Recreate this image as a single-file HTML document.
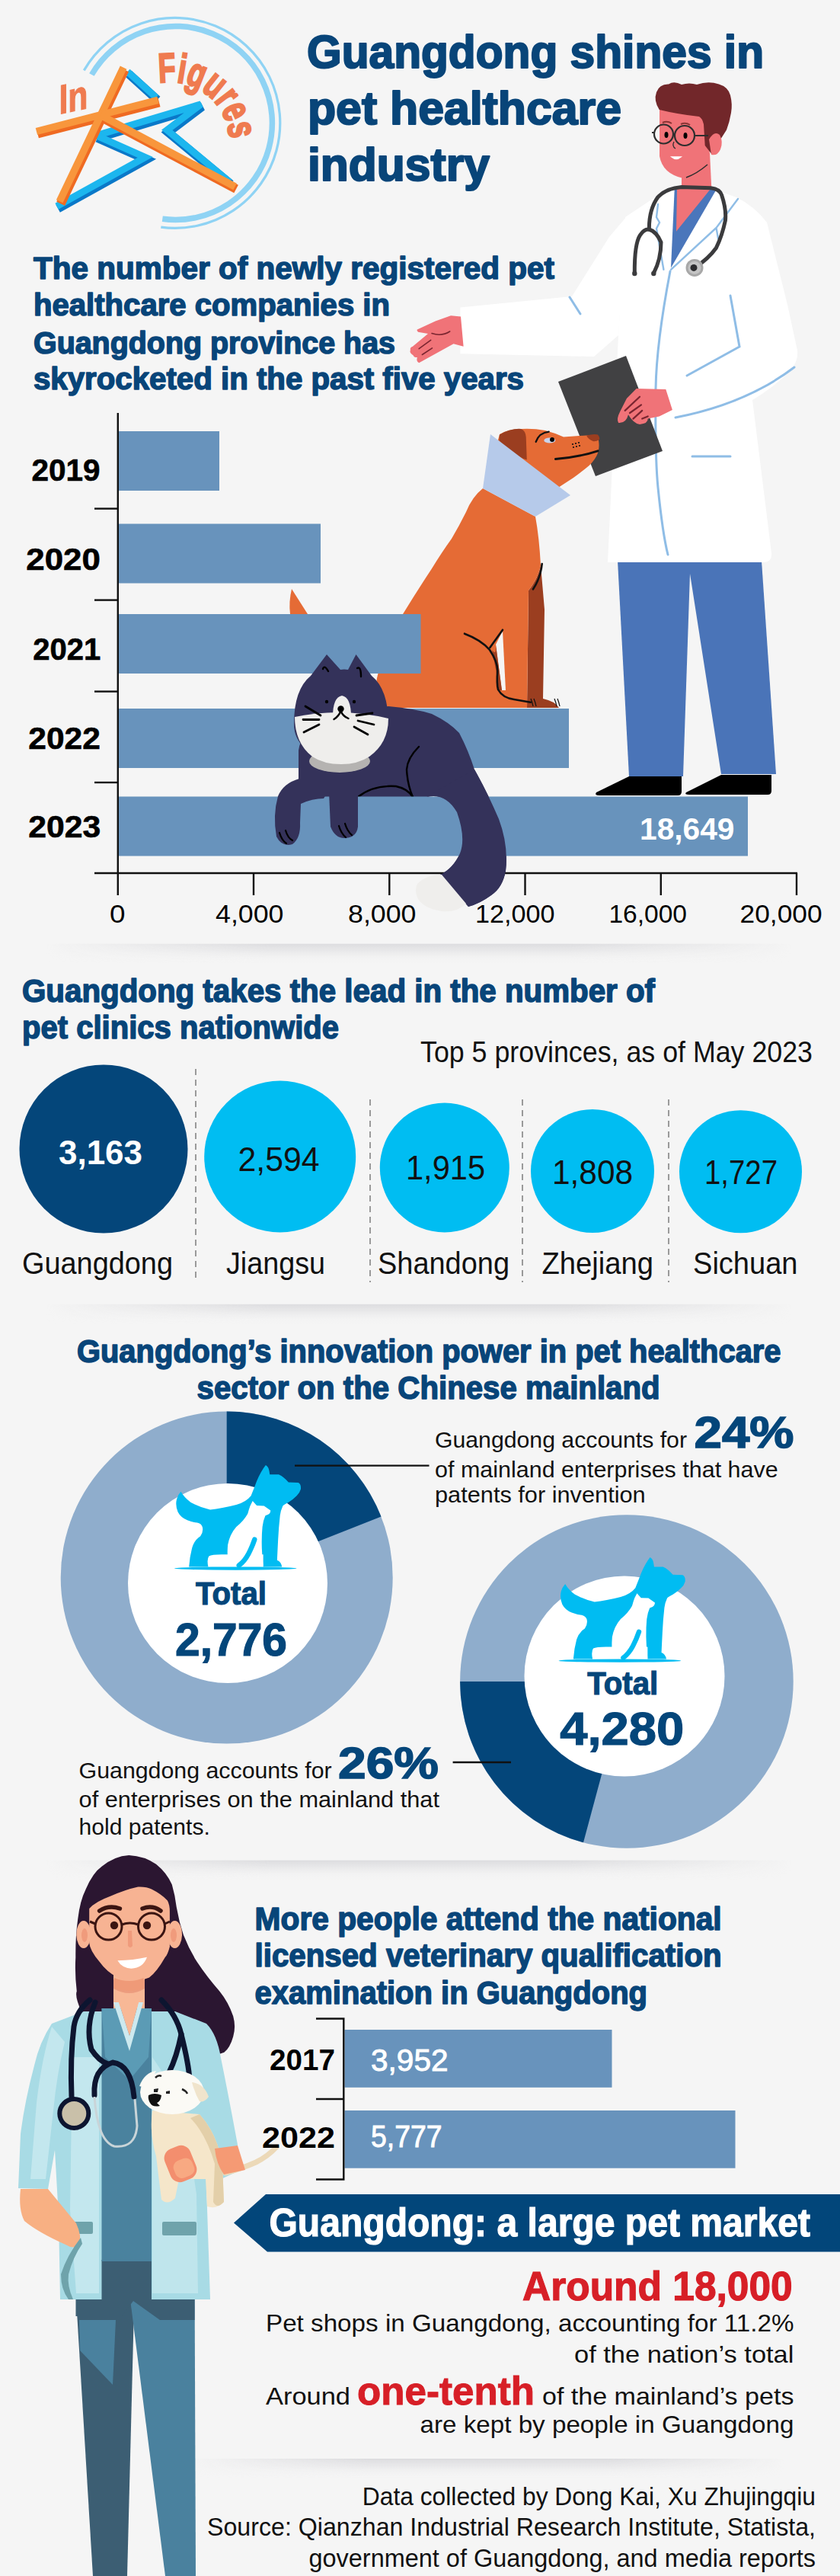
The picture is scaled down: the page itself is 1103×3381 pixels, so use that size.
<!DOCTYPE html>
<html><head><meta charset="utf-8">
<style>
html,body{margin:0;padding:0;background:#f5f5f5;}
svg{display:block;}
text{font-family:"Liberation Sans",sans-serif;}
.t{font-weight:bold;fill:#084579;stroke:#084579;stroke-width:1.6;stroke-linejoin:round;}
</style></head>
<body>
<svg width="1103" height="3381" viewBox="0 0 1103 3381">
<rect width="1103" height="3381" fill="#f5f5f5"/>
<defs>
<linearGradient id="shv" x1="0" y1="0" x2="0" y2="1">
<stop offset="0" stop-color="#d9d9dc" stop-opacity="0.9"/>
<stop offset="0.35" stop-color="#e2e2e4" stop-opacity="0.7"/>
<stop offset="1" stop-color="#f5f5f5" stop-opacity="0"/>
</linearGradient>
<linearGradient id="shh" x1="0" y1="0" x2="1" y2="0">
<stop offset="0" stop-color="#fff" stop-opacity="0"/>
<stop offset="0.3" stop-color="#fff" stop-opacity="1"/>
<stop offset="0.7" stop-color="#fff" stop-opacity="1"/>
<stop offset="1" stop-color="#fff" stop-opacity="0"/>
</linearGradient>
<mask id="mh" maskContentUnits="objectBoundingBox"><rect width="1" height="1" fill="url(#shh)"/></mask>
<g id="pet">
<path d="M80,205 Q100,240 140,270 Q200,302 260,315 Q330,308 420,285 Q480,268 510,230 Q530,180 545,140 Q570,80 600,42 Q618,50 622,80 L625,100 L680,100 Q712,115 740,148 L800,150 Q818,158 815,190 Q808,215 790,230 Q765,255 740,270 Q712,285 705,292 Q692,320 688,350 Q680,420 676,500 Q672,580 670,625 Q695,635 700,665 L585,665 L585,590 L330,590 Q270,590 252,600 Q238,620 248,665 L130,665 Q135,600 150,545 Q165,500 200,478 Q220,450 212,420 Q205,400 180,395 Q150,392 120,380 Q80,365 62,330 Q45,290 55,250 Q62,225 80,205Z" fill="#00bcf2"/>
<path d="M505,292 L520,262 L545,290 L590,292 L630,320 Q628,340 615,345 L598,352 Q585,380 580,420 Q575,470 576,530 Q577,600 585,660 L372,660 Q362,600 368,530 Q380,465 420,420 Q465,385 490,340 Q498,310 505,292Z" fill="#fff"/>
<path d="M532,498 Q518,540 495,585 Q470,632 436,657" fill="none" stroke="#00bcf2" stroke-width="30" stroke-linecap="round"/>
<ellipse cx="415" cy="675" rx="375" ry="10" fill="#00bcf2"/>
</g>
</defs>

<!-- section shadows -->
<g mask="url(#mh)">
<rect x="60" y="1238.5" width="980" height="26" fill="url(#shv)"/>
</g>
<g mask="url(#mh)">
<rect x="60" y="1711.6" width="980" height="26" fill="url(#shv)"/>
</g>
<g mask="url(#mh)">
<rect x="60" y="2441.4" width="980" height="26" fill="url(#shv)"/>
</g>
<g mask="url(#mh)">
<rect x="250" y="3227" width="780" height="26" fill="url(#shv)"/>
</g>

<!-- ===== LOGO ===== -->
<g id="logo">
<path d="M110.3,92.4 A138,138 0 1 1 211.3,298.2" fill="none" stroke="#8fd3f4" stroke-width="3.2"/>
<path d="M120.4,98 A127,127 0 1 1 213.3,287.3" fill="none" stroke="#8fd3f4" stroke-width="7.5"/>
<!-- star blue (dark side) -->
<g fill="none" stroke-linejoin="miter" stroke-miterlimit="2.5" stroke-linecap="butt">
<g transform="translate(1.5,3)" stroke="#0a78c8" stroke-width="11.5">
<polyline points="167.5,94 205,128"/>
<polyline points="126.4,177.9 263.9,136.8 219.3,170.7 301.4,238.6"/>
<polyline points="126.4,177.9 190.7,206.4 74.6,270.7"/>
</g>
<g stroke="#1cb6ee" stroke-width="9">
<polyline points="167.5,94 205,128"/>
<polyline points="126.4,177.9 263.9,136.8 219.3,170.7 301.4,238.6"/>
<polyline points="126.4,177.9 190.7,206.4 74.6,270.7"/>
</g>
<g transform="translate(1.5,3)" stroke="#ef6a22" stroke-width="12">
<line x1="78.2" y1="264.3" x2="162.1" y2="88.6"/>
<line x1="47.9" y1="172.5" x2="207.5" y2="131.4"/>
<line x1="131.8" y1="151" x2="308.6" y2="245"/>
</g>
<g stroke="#f8963c" stroke-width="9.5">
<line x1="78.2" y1="264.3" x2="162.1" y2="88.6"/>
<line x1="47.9" y1="172.5" x2="207.5" y2="131.4"/>
<line x1="131.8" y1="151" x2="308.6" y2="245"/>
</g>
</g>
<text x="77.5" y="150" font-size="54" font-weight="bold" fill="#ef7b50" stroke="#ef7b50" stroke-width="1.2" textLength="38" lengthAdjust="spacingAndGlyphs" transform="translate(77.5,150) skewY(-12) translate(-77.5,-150)">In</text>
<path id="figp" d="M209,109 A77,77 0 0 1 301,182" fill="none"/>
<text font-size="54" font-weight="bold" fill="#ef7b50" stroke="#ef7b50" stroke-width="2.6"><textPath href="#figp" textLength="134" lengthAdjust="spacingAndGlyphs">Figures</textPath></text>
</g>

<!-- HEADER TITLE -->
<g class="t" font-size="62" style="stroke-width:2.2">
<text x="403" y="89" textLength="600" lengthAdjust="spacingAndGlyphs">Guangdong shines in</text>
<text x="404" y="163" textLength="412" lengthAdjust="spacingAndGlyphs">pet healthcare</text>
<text x="404" y="237" textLength="239" lengthAdjust="spacingAndGlyphs">industry</text>
</g>
<!-- SUBTITLE 1 -->
<g class="t" font-size="41">
<text x="44" y="365.5" textLength="684" lengthAdjust="spacingAndGlyphs">The number of newly registered pet</text>
<text x="44" y="414" textLength="468" lengthAdjust="spacingAndGlyphs">healthcare companies in</text>
<text x="44" y="464" textLength="475" lengthAdjust="spacingAndGlyphs">Guangdong province has</text>
<text x="44" y="511" textLength="644" lengthAdjust="spacingAndGlyphs">skyrocketed in the past five years</text>
</g>
<!-- ===== DOCTOR (male) ===== -->
<g id="doctor">
<!-- pants -->
<polygon points="811,736 906,736 906,753 897,1019 826,1019" fill="#4a74b8"/>
<polygon points="906,736 1000,736 1019,1016 947,1016 906,753" fill="#4a74b8"/>
<!-- shoes -->
<path d="M783,1040 L826,1019 L895,1019 L895,1039 Q895,1044 890,1044 L787,1044 Q780,1044 783,1040Z" fill="#000"/>
<path d="M901,1040 L947,1017 L1013,1017 L1013,1038 Q1013,1043 1008,1043 L905,1043 Q898,1043 901,1040Z" fill="#000"/>
<!-- neck -->
<polygon points="895,226 932,200 935,262 895,262" fill="#f07378"/>
<!-- coat body -->
<path d="M878,247 L821,285 L812,440 L798,738 L1004,738 Q1014,737 1013,726 L988,525 Q1010,512 1030,494 Q1049,478 1047,460 L1034,400 L1007,292 Q990,270 967,259 L933,247 Z" fill="#ffffff"/>
<!-- sleeve left -->
<path d="M823,284 L800,311 L751,389 L604.4,403.6 L604.4,464.3 L780,468 L812,440 Z" fill="#ffffff"/>
<!-- scrubs V -->
<polygon points="885.7,249 940.5,249 881,351.4" fill="#4a76bb"/>
<polygon points="889,248 933,248 888,303.8" fill="#f07378"/>
<!-- coat lines -->
<g fill="none" stroke="#8fbde6" stroke-width="3" stroke-linecap="round">
<path d="M880,356 Q862,450 861,510 Q860,600 864,640 Q870,700 877,728"/>
<path d="M959,388 L971,455 L902,493"/>
<path d="M1043,482 Q980,530 887,548"/>
<path d="M909,599 L959,599"/>
<path d="M748,390 L762,412"/>
<path d="M969,261 L940.5,299 L943,313 M940.5,299 L881,353.8" stroke-width="2.4"/>
<path d="M864,268 L862,285 L866,292 L862,300 L871.4,353.8" stroke-width="2.4"/>
</g>
<!-- stethoscope -->
<g fill="none" stroke="#3b3b3d" stroke-width="5" stroke-linecap="round">
<path d="M833.3,358.6 Q833,320 840.5,308.6 Q846,300 852.4,301 Q862,304 868,318 Q868,340 858.3,358.6"/>
<path d="M852.4,301.4 Q852,275 864,258.6 Q875,247 895,245.5 L933.3,246.7 Q945,248 947.6,256 Q954,275 952.4,289.5 Q948,310 940.5,325.2 Q930,340 912,351.4"/>
</g>
<circle cx="833.3" cy="359" r="3.2" fill="#3b3b3d"/>
<circle cx="858.3" cy="359" r="3.2" fill="#3b3b3d"/>
<circle cx="912" cy="351.4" r="11.5" fill="#a8a8a8"/>
<circle cx="912" cy="351.4" r="8.5" fill="#c4c4c4"/>
<circle cx="911" cy="351.4" r="4.5" fill="#2c2c2e"/>
<!-- hand left (extended) -->
<path d="M592,414.3 L605,415.5 L608.6,454.8 L595.5,451.2 L550.2,476.2 Q546,474 547.9,469 Q543,469 543,466.7 Q537,463 538.9,459.5 Q538,456 541.9,454.8 L562,438 L549,435.7 Q546,433 549,432.1 L571.7,421.4 Z" fill="#f07378"/>
<path d="M567,437.5 Q580,442 590.7,435" fill="none" stroke="#7a2530" stroke-width="1.6" stroke-linecap="round"/>
<path d="M550.2,457.7 L565.7,446.4 M554.4,465.5 L567.5,456.9" stroke="#7a2530" stroke-width="1.6" stroke-linecap="round"/>
<!-- clipboard -->
<polygon points="733,501 822,467 870,592 782,625" fill="#414143"/>
<!-- hand on clipboard -->
<path d="M835.7,510 L874.3,511 L882.9,537.9 L865.7,546.4 L850.7,549.6 Q851,556 840,557.1 Q832,556 825,544.3 Q822,556 812.1,555 Q809,550 814.3,540 L822.9,522.9 Z" fill="#f07378"/>
<path d="M820.7,538.9 L840,520.7 M827,542 L842,531.4 M831.4,549.6 L843.2,538.9 M843.2,549.6 L850.7,546.4" stroke="#7a2530" stroke-width="2.2" stroke-linecap="round"/>
<!-- head -->
<path d="M866,143 L866,205 Q870,228 897,234 Q915,236 925,228 Q932,215 932,190 L930,150 Z" fill="#f07378"/>
<path d="M865.7,144 Q858,132 862,121 Q866,110 878,110.5 Q885,106 895,111 Q905,108 915,111 Q930,106 944,110.5 Q956,114 959,125 Q962,137 960,148 Q958,160 954,170.5 L946.7,182 L935,203 L925.7,191 L924,163 Q922,155 918,153 Q890,150 865.7,144Z" fill="#72272a"/>
<path d="M931,183 Q938,171 945,177 Q950,186 946,196 Q942,205 934,203 Z" fill="#f07378"/>
<g fill="none" stroke="#2e2e2e" stroke-width="2.2">
<circle cx="871.5" cy="176" r="12.5"/>
<circle cx="899" cy="178" r="13"/>
<path d="M884,176 L886,176 M912,178 L930,178 M859,174 L856,174"/>
</g>
<ellipse cx="875" cy="177" rx="2.5" ry="4" fill="#000"/>
<ellipse cx="900" cy="178" rx="2.5" ry="4" fill="#000"/>
<path d="M870,161 Q876,158 882,162 M894,163 Q900,160 906,164" fill="none" stroke="#8a3434" stroke-width="2"/>
<path d="M885,186 Q882,192 887,195" fill="none" stroke="#2e2e2e" stroke-width="1.3"/>
<path d="M882,206 Q888,211 894,206 Z" fill="#fff" stroke="#fff" stroke-width="1.5"/>
<path d="M901,233 Q915,228 929,216" fill="none" stroke="#2e2e2e" stroke-width="1.5"/>
</g>

<!-- ===== DOG ===== -->
<g id="dog">
<path d="M383,773 Q379,790 381,806 L404,806 Z" fill="#e56b35"/>
<!-- far front leg -->
<path d="M694,775 Q706,760 710,742 L715,800 L713,917 Q728,920 734,929 L692,929 Z" fill="#9b3e20"/>
<!-- body -->
<path d="M634,641 Q620,652 612,672 Q603,690 593,707 Q580,725 566.7,746.7 Q548,775 529,806 Q505,845 495,890 L489,929 L692,929 L694,775 Q706,760 710,742 Q708,705 703,678 Z" fill="#e56b35"/>
<polygon points="651,846 660,828 664,906 659,906" fill="#f5f5f5"/>
<path d="M646,853 Q652,862 651,846 L659,906 L655,906 Q652,880 646,853Z" fill="#9b3e20"/>
<path d="M610,831.7 Q632,840 643,853 Q653,868 653.3,880 Q652,897 654,905 Q660,916 675,918 L696.7,921.7" fill="none" stroke="#111" stroke-width="2.6" stroke-linecap="round"/>
<path d="M643.3,850 L660,826.7" fill="none" stroke="#111" stroke-width="2.6" stroke-linecap="round"/>
<path d="M697,917 Q699,922 700,927 M701,917 Q703,922 704,927 M728,917 Q730,922 731,927 M732,917 Q734,922 735,927" fill="none" stroke="#111" stroke-width="1.2"/>
<path d="M711.7,740 Q710,758 700,773.3" fill="none" stroke="#111" stroke-width="2.6" stroke-linecap="round"/>
<!-- head -->
<path d="M656,570 Q668,563 684,563 Q700,562 716,565 Q728,568 740,573.6 L770,571.4 Q784,570 786,578 Q788,590 783,599 Q778,608 770,614 Q760,622 753,627 L733,640 L690,665 L645,610 Z" fill="#e56b35"/>
<path d="M656,570.4 Q670,562 684.3,562.9 Q690,565 690.7,573.6 L691.8,603.6 Q680,600 673.6,593 Q660,585 655.4,578 Z" fill="#9b3e20"/>
<path d="M770,571.4 Q780,569 785,570.4 Q788,574 787,577 Q782,580 778.6,579 Q772,576 770,571.4Z" fill="#9b3e20"/>
<ellipse cx="721.8" cy="578" rx="7.5" ry="3.6" fill="#c9d4ec"/>
<circle cx="725" cy="577" r="3" fill="#000"/>
<path d="M703.6,580 Q708,568 720.7,566.7" fill="none" stroke="#111" stroke-width="2.2" stroke-linecap="round"/>
<path d="M729.3,602.5 Q760,600 785,591.8" fill="none" stroke="#111" stroke-width="2.8" stroke-linecap="round"/>
<g fill="#111"><circle cx="752" cy="583" r="1.1"/><circle cx="756" cy="582" r="1.1"/><circle cx="760" cy="581" r="1.1"/><circle cx="753" cy="587" r="1.1"/><circle cx="757" cy="586" r="1.1"/><circle cx="761" cy="585" r="1.1"/></g>
<!-- cone -->
<polygon points="644,570 634,641 703,678 749,650" fill="#b6caea"/>
</g>

<!-- ===== BARS ===== -->
<g fill="#6893bc">
<rect x="156" y="566" width="132" height="78"/>
<rect x="156" y="687.5" width="265" height="78"/>
<rect x="156" y="806" width="396.5" height="78"/>
<rect x="156" y="930" width="591" height="78"/>
</g>

<!-- ===== CAT (body, head) ===== -->
<g id="catbody">
<path d="M392,985 Q395,960 430,935 L510,927 Q545,930 567,937 Q590,948 603,962 Q615,985 623,1010 Q640,1040 655,1075 Q668,1110 664,1143 Q660,1165 645,1175 Q630,1186 615,1190 L578,1148 Q595,1140 604,1120 Q612,1100 600,1066 Q585,1040 560,1046 L392,1050 Z" fill="#34325a"/>
<path d="M386,950 Q386,905 408,887 L429,859 L447,879 Q452,878 457,879 L467.5,859 L488,887 Q510,905 510,950 Q510,990 448,1003 Q386,990 386,950Z" fill="#34325a"/>
<ellipse cx="446" cy="999" rx="40" ry="15" fill="#b5b3b1"/>
<path d="M387,941 Q448,928 510,943 Q510,975 485,993 Q470,1003 448,1003 Q425,1003 410,993 Q387,975 387,941Z" fill="#efeeec"/>
<path d="M437,941 Q437,915 449,913 Q461,915 461,941 Z" fill="#efeeec"/>
<g fill="none" stroke="#000" stroke-width="2.4" stroke-linecap="round">
<path d="M424,878 Q426,872 431,881 M469,877 Q474,874 474,888"/>
<path d="M401,927 L421,939 M398,944.5 L419,944.5 M399,961 L419,951 M468,939 L489,936 M470,946 L491,951 M465,954 L483,964" stroke-width="2.8"/>
<path d="M438.5,944 Q445,940 447.5,933 Q450,940 457.5,943"/>
<path d="M550,980 Q535,995 534,1010 Q535,1030 542,1046"/>
<path d="M470,1046 Q490,1030 520,1032 Q535,1035 542,1046"/>
</g>
<circle cx="429" cy="921" r="2.2" fill="#000"/>
<circle cx="465" cy="921" r="2.2" fill="#000"/>
<circle cx="447.5" cy="930.5" r="4.2" fill="#000"/>
</g>

<!-- 2023 bar -->
<rect x="156" y="1045.5" width="826" height="78" fill="#6893bc"/>

<!-- axes -->
<g stroke="#111" stroke-width="2.4">
<line x1="154.8" y1="542" x2="154.8" y2="1175"/>
<line x1="124" y1="1146" x2="1047" y2="1146"/>
<line x1="124" y1="667.6" x2="154" y2="667.6"/>
<line x1="124" y1="787.6" x2="154" y2="787.6"/>
<line x1="124" y1="907.6" x2="154" y2="907.6"/>
<line x1="124" y1="1027" x2="154" y2="1027"/>
<line x1="333" y1="1146" x2="333" y2="1175"/>
<line x1="511.3" y1="1146" x2="511.3" y2="1175"/>
<line x1="689.5" y1="1146" x2="689.5" y2="1175"/>
<line x1="867.8" y1="1146" x2="867.8" y2="1175"/>
<line x1="1046" y1="1146" x2="1046" y2="1175"/>
</g>
<g font-size="40" font-weight="bold" fill="#000" stroke="#000" stroke-width="0.6">
<text x="41.5" y="630.8" textLength="90" lengthAdjust="spacingAndGlyphs">2019</text>
<text x="34.3" y="748.3" textLength="97.5" lengthAdjust="spacingAndGlyphs">2020</text>
<text x="43.2" y="865.5" textLength="89" lengthAdjust="spacingAndGlyphs">2021</text>
<text x="37.3" y="982.5" textLength="94.5" lengthAdjust="spacingAndGlyphs">2022</text>
<text x="37.3" y="1099.2" textLength="95" lengthAdjust="spacingAndGlyphs">2023</text>
</g>
<g font-size="34" fill="#000">
<text x="144" y="1211" textLength="20.5" lengthAdjust="spacingAndGlyphs">0</text>
<text x="283" y="1211" textLength="89.5" lengthAdjust="spacingAndGlyphs">4,000</text>
<text x="457" y="1211" textLength="89.5" lengthAdjust="spacingAndGlyphs">8,000</text>
<text x="624" y="1211" textLength="104.5" lengthAdjust="spacingAndGlyphs">12,000</text>
<text x="799.4" y="1211" textLength="102.6" lengthAdjust="spacingAndGlyphs">16,000</text>
<text x="971.6" y="1211" textLength="108" lengthAdjust="spacingAndGlyphs">20,000</text>
</g>
<!-- cat paws & tail -->
<g id="catfront">
<path d="M393,1022 Q372,1028 365,1045 Q358,1070 363,1098 Q370,1112 384,1108 Q395,1100 394,1080 L395,1055 Q410,1048 425,1048 L430,1040 L393,1040Z" fill="#34325a"/>
<path d="M432,1040 L434,1085 Q440,1100 452,1100 Q468,1100 470,1085 L470,1040Z" fill="#34325a"/>
<path d="M600,1066 Q585,1040 560,1046 L623,1010 Q640,1040 655,1075 Q668,1110 664,1143 Q660,1165 645,1175 Q630,1186 615,1190 L578,1148 Q595,1140 604,1120 Q612,1100 600,1066Z" fill="#34325a"/>
<path d="M548,1160 Q560,1148 580,1148 L612,1186 Q600,1198 580,1196 Q555,1192 548,1178 Q544,1168 548,1160Z" fill="#efeeec"/>
<g fill="none" stroke="#000" stroke-width="2.2" stroke-linecap="round">
<path d="M367,1093 Q370,1103 376,1107 M375,1090 Q378,1100 384,1103"/>
<path d="M445,1084 Q448,1094 454,1099 M453,1081 Q456,1091 462,1096"/>
</g>
</g>

<text x="840" y="1102" font-size="40" font-weight="bold" fill="#fff" textLength="124.5" lengthAdjust="spacingAndGlyphs">18,649</text>

<!-- ===== SECTION 3: clinics ===== -->
<g class="t" font-size="43">
<text x="29" y="1314.5" textLength="831" lengthAdjust="spacingAndGlyphs">Guangdong takes the lead in the number of</text>
<text x="29" y="1363" textLength="416" lengthAdjust="spacingAndGlyphs">pet clinics nationwide</text>
</g>
<text x="552" y="1394.3" font-size="39" fill="#111" textLength="515" lengthAdjust="spacingAndGlyphs">Top 5 provinces, as of May 2023</text>
<g stroke="#9a9a9a" stroke-width="2" stroke-dasharray="8,6">
<line x1="257" y1="1403" x2="257" y2="1683"/>
<line x1="486" y1="1443" x2="486" y2="1683"/>
<line x1="686" y1="1443" x2="686" y2="1683"/>
<line x1="878" y1="1443" x2="878" y2="1683"/>
</g>
<circle cx="136" cy="1508" r="110.5" fill="#04467a"/>
<g fill="#00bdf2">
<circle cx="367.7" cy="1518" r="99.5"/>
<circle cx="583.8" cy="1532.5" r="85"/>
<circle cx="778" cy="1537" r="81"/>
<circle cx="972.5" cy="1537.7" r="80.5"/>
</g>
<text x="132" y="1528" font-size="44" font-weight="bold" fill="#fff" text-anchor="middle">3,163</text>
<g font-size="45" fill="#111" text-anchor="middle">
<text x="366" y="1537" textLength="107" lengthAdjust="spacingAndGlyphs">2,594</text>
<text x="585" y="1548" textLength="104" lengthAdjust="spacingAndGlyphs">1,915</text>
<text x="778" y="1554" textLength="106" lengthAdjust="spacingAndGlyphs">1,808</text>
<text x="973" y="1554" textLength="96" lengthAdjust="spacingAndGlyphs">1,727</text>
</g>
<g font-size="40" fill="#111">
<text x="29" y="1672" textLength="198" lengthAdjust="spacingAndGlyphs">Guangdong</text>
<text x="297" y="1672" textLength="130" lengthAdjust="spacingAndGlyphs">Jiangsu</text>
<text x="496" y="1672" textLength="173" lengthAdjust="spacingAndGlyphs">Shandong</text>
<text x="711.5" y="1672" textLength="146.5" lengthAdjust="spacingAndGlyphs">Zhejiang</text>
<text x="910" y="1672" textLength="137.5" lengthAdjust="spacingAndGlyphs">Sichuan</text>
</g>

<!-- ===== SECTION 4: donuts ===== -->
<g class="t" font-size="43">
<text x="101" y="1787.6" textLength="924.5" lengthAdjust="spacingAndGlyphs">Guangdong’s innovation power in pet healthcare</text>
<text x="258.6" y="1836.4" textLength="608" lengthAdjust="spacingAndGlyphs">sector on the Chinese mainland</text>
</g>
<!-- donut 1 -->
<circle cx="297.7" cy="2070.6" r="218" fill="#8fadcc"/>
<path d="M297.7,2070.6 L297.7,1852.6 A218,218 0 0 1 500.5,1990.5 Z" fill="#04467a"/>
<circle cx="299" cy="2078" r="131" fill="#fff"/>
<!-- donut 2 -->
<circle cx="822.9" cy="2207" r="218.8" fill="#8fadcc"/>
<path d="M822.9,2207 L604.1,2207 A218.8,218.8 0 0 0 766,2418.3 Z" fill="#04467a"/>
<circle cx="820" cy="2200" r="131.5" fill="#fff"/>
<use href="#pet" transform="translate(220.3,1913.9) scale(0.21428)"/>
<use href="#pet" transform="translate(725,2035) scale(0.21428)"/>
<!-- leader lines -->
<g stroke="#111" stroke-width="2.4">
<line x1="387" y1="1923.6" x2="563.5" y2="1923.6"/>
<line x1="594.6" y1="2313" x2="671" y2="2313"/>
</g>
<!-- donut labels -->
<g fill="#04467a" font-weight="bold" text-anchor="middle" stroke="#04467a" stroke-width="1.2">
<text x="303.5" y="2105.7" font-size="42" textLength="93" lengthAdjust="spacingAndGlyphs">Total</text>
<text x="303.5" y="2173" font-size="62" textLength="147" lengthAdjust="spacingAndGlyphs">2,776</text>
<text x="817.7" y="2224" font-size="42" textLength="93" lengthAdjust="spacingAndGlyphs">Total</text>
<text x="816.7" y="2290" font-size="62" textLength="163" lengthAdjust="spacingAndGlyphs">4,280</text>
</g>
<g font-size="30" fill="#111">
<text x="571" y="1900" textLength="331" lengthAdjust="spacingAndGlyphs">Guangdong accounts for</text>
<text x="571" y="1939" textLength="450.7" lengthAdjust="spacingAndGlyphs">of mainland enterprises that have</text>
<text x="571" y="1972" textLength="276.7" lengthAdjust="spacingAndGlyphs">patents for invention</text>
<text x="103.6" y="2333.8" textLength="332" lengthAdjust="spacingAndGlyphs">Guangdong accounts for</text>
<text x="103.6" y="2372" textLength="473.4" lengthAdjust="spacingAndGlyphs">of enterprises on the mainland that</text>
<text x="103.6" y="2407.5" textLength="172.2" lengthAdjust="spacingAndGlyphs">hold patents.</text>
</g>
<g fill="#04467a" font-weight="bold" font-size="58" stroke="#04467a" stroke-width="1.5">
<text x="911.5" y="1900" textLength="131" lengthAdjust="spacingAndGlyphs">24%</text>
<text x="444" y="2333.8" textLength="132" lengthAdjust="spacingAndGlyphs">26%</text>
</g>

<!-- ===== FEMALE DOCTOR ===== -->
<g id="femdoc">
<!-- hair back -->
<path d="M106.8,2640 Q98,2620 100.8,2613.5 Q98,2590 99.3,2568.8 Q99,2540 102.3,2518.2 Q105,2495 112.7,2479.5 Q122,2458 133.6,2449.8 Q150,2436 169.3,2434.9 Q190,2436 205,2446.8 Q219,2458 225.8,2473.6 Q230,2488 231.8,2503.3 Q235,2522 240.7,2539 Q248,2558 258.6,2574.8 Q272,2595 288.3,2613.5 Q300,2628 306.2,2646.2 Q310,2660 306.2,2673 Q302,2688 294.3,2693.8 Q285,2698 276.4,2696.8 L250,2650 L120,2650 Z" fill="#2b1631"/>
<!-- pants -->
<polygon points="99.5,3010 176.5,3010 167,3381 122,3381" fill="#3c5e73"/>
<polygon points="170,3010 255.6,3010 257,3381 217,3381" fill="#4a819e"/>
<polygon points="99.5,3010 255.6,3010 255.6,3045 210,3045 175,3020 160,3040 99.5,3040" fill="#3c5e73"/>
<polygon points="104,3045 152,3045 148,3130 105,3085" fill="#4a819e"/>
<!-- neck -->
<rect x="149" y="2590" width="41" height="60" fill="#f8b896"/>
<path d="M149,2598 Q170,2612 190,2598 L190,2610 Q170,2622 149,2610Z" fill="#ec9c7e"/>
<!-- coat -->
<path d="M110,2640 L68,2656 Q52,2680 45,2711 Q32,2760 27,2801 L24,2872 L63,2873 L72,2822 L77,2910 L79,3018 L276,3018 L271,2869 L312,2850 L312,2815 Q300,2750 290,2701 Q285,2670 271,2656 L230,2640 Z" fill="#a8dbe5"/>
<path d="M68,2660 Q55,2700 48,2760 L40,2860 L60,2860 L70,2770 Q75,2720 85,2680 Z" fill="#c3e7ee"/>
<path d="M95,2700 L92,2900 L100,3010 L130,3010 L130,2700Z" fill="#c3e7ee"/>
<path d="M200,2700 L200,3010 L260,3010 L258,2880 L240,2760Z" fill="#bfe5ec"/>
<!-- scrubs -->
<rect x="133.5" y="2966" width="65.5" height="54" fill="#3c5e73"/>
<polygon points="133.5,2636 199,2636 199,2968 133.5,2968" fill="#4a829e"/>
<polygon points="133.5,2636 199,2636 195,2700 170,2730 138,2700" fill="#5b9bb5"/>
<polygon points="149,2628 170,2692 188,2628 182,2628 170,2672 156,2628" fill="#cde9ef"/>
<polygon points="156,2628 170,2672 182,2628" fill="#f8b896"/>
<!-- pocket flaps -->
<rect x="90" y="2916" width="32" height="16" rx="2" fill="#6fa3ab"/>
<rect x="213" y="2916" width="45" height="18" rx="2" fill="#6fa3ab"/>
<!-- left hand in pocket -->
<path d="M27,2873 L63,2873 L100,2918 Q108,2935 104,2948 Q95,2952 86,2946 Q50,2930 32,2915 Q24,2900 27,2873Z" fill="#f8b083"/>
<path d="M106,2937 Q88,2960 80,2985 Q80,3005 90,3018 L96,3018 Q88,3000 90,2985 Q96,2962 108,2945Z" fill="#6fa3ab"/>
<!-- stethoscope -->
<g fill="none" stroke="#0d1530" stroke-width="7" stroke-linecap="round">
<path d="M118,2625 Q100,2640 97,2660 Q92,2700 94,2752"/>
<path d="M212,2625 Q232,2645 238,2670 Q248,2710 249,2730"/>
<path d="M125,2628 Q112,2660 120,2690 Q130,2705 140,2708 M238,2670 Q232,2700 222,2720"/>
<path d="M124,2750 Q122,2715 148,2707 Q172,2710 176,2752"/>
</g>
<path d="M124,2752 Q128,2810 150,2817 Q178,2820 180,2790 L177,2755" fill="none" stroke="#c9d4d8" stroke-width="3"/>
<circle cx="97.3" cy="2774" r="19" fill="#c9c0a9" stroke="#0d1530" stroke-width="6"/>
<!-- puppy -->

<path d="M200,2770 Q196,2800 205,2830 L212,2887 Q220,2895 230,2885 L235,2860 L270,2860 L272,2896 Q285,2900 294,2890 L292,2840 Q285,2800 262,2775 Z" fill="#f5e6ca"/>
<path d="M262,2775 Q285,2800 292,2840 L294,2890 Q285,2900 280,2890 L282,2840 Q270,2800 250,2780Z" fill="#e3cfa9"/>
<ellipse cx="226" cy="2746" rx="42" ry="29" fill="#fbfaf5"/>
<path d="M183,2738 Q190,2720 205,2718 Q198,2732 190,2740Z" fill="#fbfaf5"/>
<path d="M252,2733 Q268,2735 274,2752 Q268,2760 262,2758 Q256,2748 252,2733Z" fill="#f0e4cc"/>
<path d="M195,2750 Q203,2746 212,2750 Q211,2758 206,2760 L210,2764 Q200,2766 197,2760 Q194,2755 195,2750Z" fill="#111"/>
<path d="M202,2742 L208,2741 L207,2746 L202,2746Z" fill="#222"/><path d="M204,2727 Q208,2723 212,2725" stroke="#222" stroke-width="2.5" fill="none"/>
<path d="M218,2745 L223,2744 L223,2748 L218,2748Z" fill="#222"/><path d="M239,2742 Q244,2744 246,2748" stroke="#222" stroke-width="2.5" fill="none"/>
<path d="M296,2852 Q318,2846 336,2838 Q352,2830 363,2818" fill="none" stroke="#ecd9b8" stroke-width="7" stroke-linecap="round"/>
<!-- hands -->
<rect x="219" y="2817" width="36" height="46" rx="13" transform="rotate(-22 237 2840)" fill="#f38e6e"/><rect x="226" y="2835" width="26" height="24" rx="9" transform="rotate(-22 237 2840)" fill="#f8a982"/>
<path d="M282,2820 L312,2816 L322,2848 L294,2854 Q284,2840 282,2820Z" fill="#f59a74"/>
<!-- face -->
<ellipse cx="109.8" cy="2539" rx="9.5" ry="18" fill="#f7b393"/>
<ellipse cx="229.5" cy="2539" rx="9.5" ry="18" fill="#f7b393"/>
<ellipse cx="111" cy="2540" rx="4" ry="9" fill="#f09b7c"/>
<ellipse cx="228" cy="2540" rx="4" ry="9" fill="#f09b7c"/>
<path d="M117.2,2505 Q125,2496 145.5,2488.5 Q165,2480 181.2,2476.5 Q192,2476 199,2479.5 Q212,2486 219.9,2494.4 Q223,2500 222.9,2509.3 L222.9,2555 Q220,2566 216.9,2568.8 Q206,2588 196,2595.6 Q185,2600 172.3,2600.5 Q160,2600 154.4,2595.6 Q140,2588 130.6,2574.8 Q118,2560 117.2,2550 Z" fill="#f7b393"/>
<path d="M150,2596 Q170,2604 188.6,2596 L188.6,2610 Q170,2616 150,2610Z" fill="#ef9a78"/>
<g fill="none" stroke="#3b1512" stroke-width="3">
<circle cx="142.5" cy="2528.6" r="17.5"/>
<circle cx="199" cy="2528.6" r="17.5"/>
<path d="M160,2526 Q170.5,2522 181.5,2526 M125,2525 L118,2522 M216.5,2525 L223,2522"/>
</g>
<circle cx="150" cy="2527" r="5.2" fill="#3b1512"/>
<circle cx="193" cy="2527" r="5.2" fill="#3b1512"/>
<path d="M130.6,2508 Q143,2500 157.4,2505 M187,2505 Q200,2500 211,2508" fill="none" stroke="#3b1512" stroke-width="5.5" stroke-linecap="round"/>
<path d="M168,2534 L168,2554 Q171,2558 174,2554 L173,2534Z" fill="#f09b7c"/>
<path d="M154.4,2573.3 Q175,2573 193,2568.8 Q188,2583 172.3,2583.7 Q160,2583 154.4,2573.3Z" fill="#fff"/>
</g>

<!-- ===== SECTION 5: exam ===== -->
<g class="t" font-size="43">
<text x="334.6" y="2532.6" textLength="613" lengthAdjust="spacingAndGlyphs">More people attend the national</text>
<text x="334.6" y="2581" textLength="613" lengthAdjust="spacingAndGlyphs">licensed veterinary qualification</text>
<text x="334.6" y="2630" textLength="515.4" lengthAdjust="spacingAndGlyphs">examination in Guangdong</text>
</g>
<g fill="#6893bc">
<rect x="452.5" y="2664" width="351" height="75.8"/>
<rect x="452.5" y="2770" width="513" height="75.7"/>
</g>
<g stroke="#111" stroke-width="2.4" fill="none">
<path d="M415,2649.5 L451.3,2649.5 L451.3,2860.5 L415,2860.5 M415,2755 L451.3,2755"/>
</g>
<g font-size="38" font-weight="bold" fill="#000" text-anchor="end">
<text x="440" y="2717" textLength="86" lengthAdjust="spacingAndGlyphs">2017</text>
<text x="440" y="2818.5" textLength="96" lengthAdjust="spacingAndGlyphs">2022</text>
</g>
<g font-size="40" fill="#fff" stroke="#fff" stroke-width="0.9">
<text x="487" y="2717.9" textLength="101.5" lengthAdjust="spacingAndGlyphs">3,952</text>
<text x="487" y="2817.6" textLength="93.5" lengthAdjust="spacingAndGlyphs">5,777</text>
</g>
<!-- banner -->
<polygon points="307,2917.5 349,2880 1103,2880 1103,2955.4 351,2955.4" fill="#02467a"/>
<text x="353.4" y="2935" font-size="51" font-weight="bold" fill="#fff" stroke="#fff" stroke-width="1.2" textLength="710.6" lengthAdjust="spacingAndGlyphs">Guangdong: a large pet market</text>
<text x="686" y="3019" font-size="53" font-weight="bold" fill="#d71f27" stroke="#d71f27" stroke-width="1.2" textLength="354.7" lengthAdjust="spacingAndGlyphs">Around 18,000</text>
<g font-size="32" fill="#111" text-anchor="end">
<text x="1042.4" y="3060" textLength="693.4" lengthAdjust="spacingAndGlyphs">Pet shops in Guangdong, accounting for 11.2%</text>
<text x="1042.4" y="3100.7" textLength="288.4" lengthAdjust="spacingAndGlyphs">of the nation’s total</text>
<text x="1042.4" y="3155.5" textLength="330.4" lengthAdjust="spacingAndGlyphs">of the mainland’s pets</text>
<text x="1042.4" y="3193" textLength="490.9" lengthAdjust="spacingAndGlyphs">are kept by people in Guangdong</text>
</g>
<text x="349" y="3155.5" font-size="32" fill="#111" textLength="111" lengthAdjust="spacingAndGlyphs">Around</text>
<text x="469" y="3155.5" font-size="52" font-weight="bold" fill="#d71f27" stroke="#d71f27" stroke-width="1" textLength="233" lengthAdjust="spacingAndGlyphs">one-tenth</text>
<g font-size="33" fill="#111" text-anchor="end">
<text x="1071" y="3288" textLength="595.2" lengthAdjust="spacingAndGlyphs">Data collected by Dong Kai, Xu Zhujingqiu</text>
<text x="1071" y="3327.5" textLength="799" lengthAdjust="spacingAndGlyphs">Source: Qianzhan Industrial Research Institute, Statista,</text>
<text x="1071" y="3368.7" textLength="665.5" lengthAdjust="spacingAndGlyphs">government of Guangdong, and media reports</text>
</g>

</svg>
</body></html>
